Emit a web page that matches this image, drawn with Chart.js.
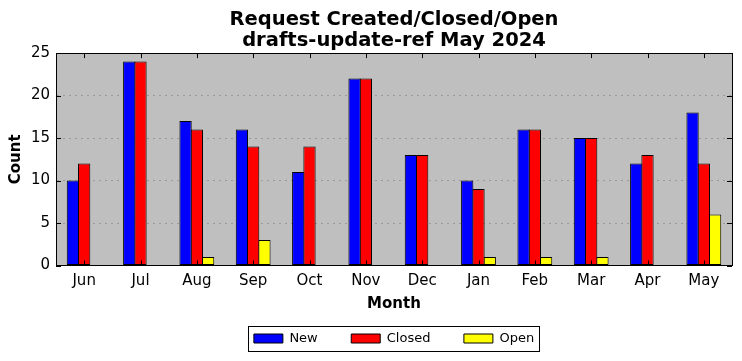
<!DOCTYPE html>
<html><head><meta charset="utf-8">
<script src="https://cdn.jsdelivr.net/npm/chart.js@4/dist/chart.umd.min.js"></script>
<style>html,body{margin:0;padding:0;background:#fff}#wrap{width:742px;height:361px}</style>
</head><body><div id="wrap"><canvas id="c" width="742" height="361"></canvas></div>
<script>
const months = ["Jun","Jul","Aug","Sep","Oct","Nov","Dec","Jan","Feb","Mar","Apr","May"];
const newCounts = [10,24,17,16,11,22,13,10,16,15,12,18];
const closedCounts = [12,24,16,14,14,22,13,9,16,15,13,12];
const openCounts = [0,0,1,3,0,0,0,1,1,1,0,6];
const yTicks = [0,5,10,15,20,25];

const FONT = "'DejaVu Sans', sans-serif";

const framePlugin = {
  id: 'frame',
  afterLayout(chart) {
    const a = chart.chartArea;
    const tb = chart.titleBlock;
    if (tb) { tb.left = a.left; tb.right = a.right; tb.width = a.right - a.left; }
    const lg = chart.legend;
    if (lg) {
      const dx = ((a.left + a.right) - (lg.left + lg.right)) / 2;
      lg.left = a.left; lg.right = a.right; lg.width = a.right - a.left;
      (lg.legendHitBoxes || []).forEach(h => { h.left += dx; });
    }
  },
  beforeDraw(chart) {
    const ctx = chart.ctx, a = chart.chartArea;
    ctx.save();
    ctx.fillStyle = '#fff';
    ctx.fillRect(0,0,chart.width,chart.height);
    ctx.fillStyle = '#bfbfbf';
    ctx.fillRect(a.left,a.top,a.right-a.left,a.bottom-a.top);
    ctx.restore();
  },
  afterDraw(chart) {
    const ctx = chart.ctx, a = chart.chartArea;
    const xs = chart.scales.x, ys = chart.scales.y;
    ctx.save();
    ctx.strokeStyle = '#000';
    ctx.lineWidth = 1;
    ctx.setLineDash([]);
    ctx.beginPath();
    xs.ticks.forEach((t,i) => {
      const px = Math.round(xs.getPixelForTick(i)) + 0.5;
      ctx.moveTo(px, a.top); ctx.lineTo(px, a.top+5);
      ctx.moveTo(px, a.bottom); ctx.lineTo(px, a.bottom-5);
    });
    yTicks.forEach(v => {
      const py = Math.round(ys.getPixelForValue(v)) + 0.5;
      ctx.moveTo(a.left, py); ctx.lineTo(a.left+5, py);
      ctx.moveTo(a.right, py); ctx.lineTo(a.right-5, py);
    });
    ctx.stroke();
    ctx.strokeRect(Math.round(a.left)+0.5, Math.round(a.top)+0.5, Math.round(a.right-a.left), Math.round(a.bottom-a.top));
    // legend frame
    const lg = chart.legend;
    if (lg && lg.legendHitBoxes && lg.legendHitBoxes.length) {
      const hb = lg.legendHitBoxes;
      const last = hb[hb.length-1];
      const l = hb[0].left - 6, r = last.left + last.width + 5;
      const t = hb[0].top - 6, b = hb[0].top + hb[0].height + 6;
      ctx.strokeRect(Math.round(l)+0.5, Math.round(t)+0.5, Math.round(r-l), Math.round(b-t));
    }
    ctx.restore();
  }
};

const barStyle = {borderColor:'#000', borderWidth:1, borderSkipped:false};

new Chart(document.getElementById('c'), {
  type: 'bar',
  data: {
    labels: months,
    datasets: [
      Object.assign({label:'New', data:newCounts, backgroundColor:'#0000ff'}, barStyle),
      Object.assign({label:'Closed', data:closedCounts, backgroundColor:'#ff0000'}, barStyle),
      Object.assign({label:'Open', data:openCounts, backgroundColor:'#ffff00'}, barStyle)
    ]
  },
  options: {
    responsive: false,
    animation: false,
    devicePixelRatio: 1,
    layout: {padding: {left: 0, right: 10, top: 0, bottom: 6}},
    datasets: {bar: {categoryPercentage: 0.6, barPercentage: 1.09}},
    plugins: {
      tooltip: {enabled: false},
      title: {
        display: true,
        text: ['Request Created/Closed/Open','drafts-update-ref May 2024'],
        color: '#000',
        font: {family: FONT, size: 19.5, weight: 'bold', lineHeight: 1.08},
        padding: {top: 9, bottom: 2}
      },
      legend: {
        position: 'bottom',
        labels: {
          color: '#000',
          font: {family: FONT, size: 13},
          boxWidth: 29, boxHeight: 9,
          padding: 33.5
        }
      }
    },
    scales: {
      x: {
        grid: {display: false, drawTicks: false},
        border: {display: true, color: '#000'},
        ticks: {color: '#000', font: {family: FONT, size: 15}, padding: 7, maxRotation: 0},
        title: {display: true, text: 'Month', color: '#000', font: {family: FONT, size: 15, weight: 'bold'}, padding: {top: 2, bottom: -15}},
        afterFit(s) { s.height = 33; }
      },
      y: {
        min: 0, max: 25,
        afterBuildTicks(s) { s.ticks = yTicks.map(v => ({value: v})); },
        grid: {display: true, drawTicks: false, color: '#999999', lineWidth: 1},
        border: {display: true, color: '#000', dash: [2,4]},
        ticks: {color: '#000', font: {family: FONT, size: 15}, padding: 6},
        title: {display: true, text: 'Count', color: '#000', font: {family: FONT, size: 15, weight: 'bold'}, padding: {top: 7, bottom: 4}},
        afterFit(s) { s.width = 56; }
      }
    }
  },
  plugins: [framePlugin]
});
</script></body></html>
